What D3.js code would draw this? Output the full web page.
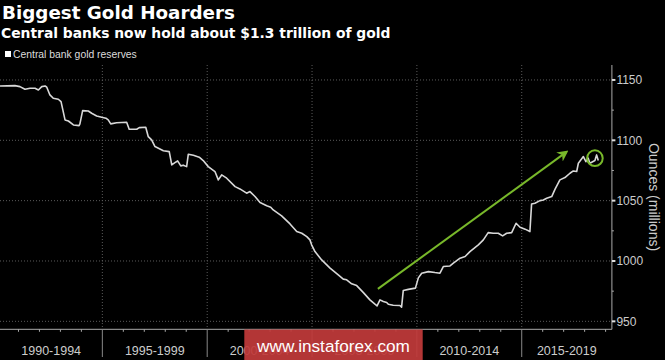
<!DOCTYPE html>
<html>
<head>
<meta charset="utf-8">
<script src="https://cdn.jsdelivr.net/npm/d3@7"></script>
<style>
html,body{margin:0;padding:0;background:#000;}
svg{display:block;}
</style>
</head>
<body>
<svg id="chart" width="665" height="360"></svg>
<script>
// ---- data ----
const years = [1990.12,1990.83,1991.07,1991.31,1991.55,1991.79,1991.95,1992.11,1992.27,1992.35,1992.50,1992.66,1992.90,1993.03,1993.22,1993.38,1993.62,1993.89,1993.93,1994.06,1994.33,1994.49,1994.73,1994.97,1995.17,1995.28,1995.40,1995.68,1996.16,1996.28,1996.64,1996.76,1997.07,1997.19,1997.35,1997.51,1997.91,1998.19,1998.31,1998.46,1998.59,1998.74,1998.86,1999.02,1999.10,1999.34,1999.62,1999.81,2000.05,2000.37,2000.53,2000.69,2000.93,2001.33,2001.56,2001.88,2002.04,2002.28,2002.52,2002.84,2003.03,2003.15,2003.55,2003.95,2004.27,2004.51,2004.75,2004.90,2004.98,2005.14,2005.46,2005.86,2006.25,2006.49,2006.65,2006.89,2007.13,2007.45,2007.76,2008.00,2008.10,2008.24,2008.40,2008.56,2008.64,2008.87,2009.19,2009.27,2009.35,2009.59,2009.93,2010.07,2010.23,2010.55,2010.86,2011.10,2011.26,2011.58,2011.74,2012.06,2012.30,2012.53,2012.93,2013.17,2013.40,2013.64,2013.88,2014.09,2014.28,2014.52,2014.73,2014.92,2015.16,2015.39,2015.47,2015.63,2015.87,2016.03,2016.19,2016.43,2016.59,2016.82,2017.06,2017.30,2017.46,2017.62,2017.70,2017.94,2018.06,2018.17,2018.25,2018.49,2018.57,2018.65];
const reserves = [1145.0,1145.3,1144.5,1142.3,1143.1,1143.1,1141.7,1144.5,1145.0,1144.0,1137.6,1134.8,1134.0,1132.0,1116.9,1116.0,1112.7,1112.2,1113.6,1124.6,1124.3,1122.4,1120.2,1119.1,1118.3,1116.9,1113.6,1114.6,1115.0,1109.2,1109.2,1110.5,1110.8,1103.0,1100.3,1094.8,1091.4,1090.6,1079.6,1081.5,1082.9,1078.8,1079.4,1078.2,1088.5,1087.6,1086.0,1083.2,1078.2,1074.1,1067.2,1071.3,1068.6,1061.6,1059.7,1056.2,1057.5,1053.4,1048.4,1045.7,1044.6,1042.3,1037.4,1030.7,1024.4,1023.0,1020.2,1017.5,1013.4,1007.8,1000.9,994.1,988.5,985.0,984.4,981.1,979.6,973.8,967.8,964.2,962.8,967.8,966.4,965.6,964.1,963.3,963.1,961.8,975.5,976.5,977.5,986.0,989.9,991.2,990.4,989.9,995.4,995.9,998.2,1002.3,1003.7,1007.8,1013.4,1017.5,1023.5,1023.0,1023.0,1020.8,1023.0,1023.5,1031.3,1028.0,1026.4,1024.4,1047.3,1047.9,1050.0,1050.6,1052.0,1053.4,1059.5,1067.2,1069.1,1072.7,1074.6,1074.1,1081.0,1086.5,1082.3,1085.2,1081.0,1083.2,1087.9,1083.2];
const periodStarts = [1990,1995,2000,2005,2010,2015];
const periodLabels = ["1990-1994","1995-1999","2000-2004","2005-2009","2010-2014","2015-2019"];
const yTicks = [950,1000,1050,1100,1150];
const yMinorTicks = [975,1025,1075,1125];
const arrowFrom = [2008.14, 976.9];
const arrowTo = [2017.14, 1090.4];
const circleAt = [2018.49, 1085.2];

const titleText = "Biggest Gold Hoarders";
const subtitleText = "Central banks now hold about $1.3 trillion of gold";
const legendText = "Central bank gold reserves";
const yAxisTitle = "Ounces (millions)";
const watermark = "www.instaforex.com";

// ---- layout ----
const svg = d3.select("#chart");
const plotL = 0, plotR = 611.9, plotT = 65, plotB = 329.3;
const x = d3.scaleLinear().domain([1990, 2019.3]).range([-2.5, plotR]);
const y = d3.scaleLinear().domain([943.4, 1162.4]).range([plotB, plotT]);

function fit(sel, target){
  const w = sel.node().getComputedTextLength();
  const fs = parseFloat(sel.attr("font-size"));
  sel.attr("font-size", fs * target / w);
}

svg.append("rect").attr("width",665).attr("height",360).attr("fill","#000");

// titles
const t1 = svg.append("text").attr("x",2).attr("y",19)
  .attr("font-family","DejaVu Sans").attr("font-weight","bold")
  .attr("font-size",18.5).attr("fill","#fff").text(titleText);
fit(t1, 233);
const t2 = svg.append("text").attr("x",1).attr("y",37.5)
  .attr("font-family","DejaVu Sans").attr("font-weight","bold")
  .attr("font-size",15).attr("fill","#fff").text(subtitleText);
fit(t2, 390);

// legend
svg.append("rect").attr("x",5).attr("y",51).attr("width",6).attr("height",6).attr("fill","#fff");
const lg = svg.append("text").attr("x",13).attr("y",57.5)
  .attr("font-family","Liberation Sans").attr("font-size",10.5)
  .attr("fill","#ddd").text(legendText);
fit(lg, 124);

// gridlines
svg.append("g").selectAll("line").data(yTicks).join("line")
  .attr("x1",plotL).attr("x2",plotR)
  .attr("y1",d=>y(d)).attr("y2",d=>y(d))
  .attr("stroke","#5a5a5a").attr("stroke-width",1).attr("stroke-dasharray","1,2");
svg.append("g").selectAll("line").data(periodStarts.slice(1)).join("line")
  .attr("x1",d=>x(d)).attr("x2",d=>x(d))
  .attr("y1",plotT).attr("y2",plotB)
  .attr("stroke","#5a5a5a").attr("stroke-width",1).attr("stroke-dasharray","1,2");

// x axis
svg.append("line").attr("x1",plotL).attr("x2",plotR).attr("y1",plotB).attr("y2",plotB)
  .attr("stroke","#aaa").attr("stroke-width",1);
const yearTicks = d3.range(1991, 2020).filter(v => v % 5 !== 0);
svg.append("g").selectAll("line").data(yearTicks).join("line")
  .attr("x1",d=>x(d)).attr("x2",d=>x(d)).attr("y1",plotB).attr("y2",plotB+2.5)
  .attr("stroke","#aaa");
svg.append("g").selectAll("line").data(periodStarts.slice(1)).join("line")
  .attr("x1",d=>x(d)).attr("x2",d=>x(d)).attr("y1",plotB).attr("y2",357)
  .attr("stroke","#888");
svg.append("g").selectAll("text").data(periodStarts).join("text")
  .attr("x",(d)=>{ const a=Math.max(plotL,x(d)), b=Math.min(plotR,x(d+5)); return (a+b)/2; })
  .attr("y",355).attr("text-anchor","middle")
  .attr("font-family","Liberation Sans").attr("font-size",12.5).attr("fill","#ccc")
  .text((d,i)=>periodLabels[i]);

// y axis (right)
svg.append("line").attr("x1",plotR).attr("x2",plotR).attr("y1",plotT).attr("y2",plotB)
  .attr("stroke","#aaa").attr("stroke-width",1);
svg.append("g").selectAll("line").data(yTicks).join("line")
  .attr("x1",plotR).attr("x2",plotR+3.5).attr("y1",d=>y(d)).attr("y2",d=>y(d))
  .attr("stroke","#ddd").attr("stroke-width",2);
svg.append("g").selectAll("line").data(yMinorTicks).join("line")
  .attr("x1",plotR).attr("x2",plotR+2).attr("y1",d=>y(d)).attr("y2",d=>y(d))
  .attr("stroke","#aaa");
svg.append("g").selectAll("text").data(yTicks).join("text")
  .attr("x",plotR+4.5).attr("y",d=>y(d)+4.3)
  .attr("font-family","Liberation Sans").attr("font-size",12).attr("fill","#ccc")
  .text(d=>d);
svg.append("text").attr("transform","translate(649,197) rotate(90)")
  .attr("text-anchor","middle").attr("font-family","Liberation Sans")
  .attr("font-size",14).attr("fill","#ccc").text(yAxisTitle);

// data line
const pts = years.map((yr,i)=>[yr,reserves[i]]);
svg.append("path").datum(pts)
  .attr("d", d3.line().x(d=>x(d[0])).y(d=>y(d[1])))
  .attr("fill","none").attr("stroke","#d8d8d8").attr("stroke-width",1.6)
  .attr("stroke-linejoin","round");

// annotations
const green = "#78b82a";
svg.append("defs").append("marker").attr("id","ah")
  .attr("viewBox","0 0 10 10").attr("refX",8).attr("refY",5)
  .attr("markerWidth",5.5).attr("markerHeight",5.5).attr("markerUnits","strokeWidth")
  .attr("orient","auto")
  .append("path").attr("d","M0,0 L10,5 L0,10 L3,5 Z").attr("fill",green);
svg.append("line")
  .attr("x1",x(arrowFrom[0])).attr("y1",y(arrowFrom[1]))
  .attr("x2",x(arrowTo[0])).attr("y2",y(arrowTo[1]))
  .attr("stroke",green).attr("stroke-width",2).attr("marker-end","url(#ah)");
svg.append("circle").attr("cx",x(circleAt[0])).attr("cy",y(circleAt[1])).attr("r",7.8)
  .attr("fill","none").attr("stroke",green).attr("stroke-width",2);

// watermark
svg.append("rect").attr("x",244.3).attr("y",329.5).attr("width",178.4).attr("height",31)
  .attr("fill","#c13a3a").attr("opacity",0.93);
const wm = svg.append("text").attr("x",333.5).attr("y",351.5).attr("text-anchor","middle")
  .attr("font-family","Liberation Sans").attr("font-size",19).attr("fill","#fff").text(watermark);
fit(wm, 153);
</script>
</body>
</html>
